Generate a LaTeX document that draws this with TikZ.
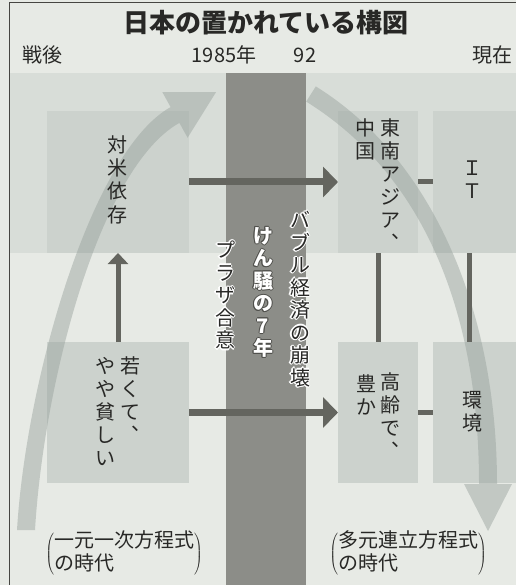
\documentclass[tikz,border=0pt]{standalone}
\usepackage{fontspec}
\setmainfont{Noto Sans CJK JP}
\usepackage{graphicx}
\usetikzlibrary{arrows.meta}
\definecolor{paperc}{RGB}{231,234,229}
\definecolor{bandc}{RGB}{216,221,216}
\definecolor{boxc}{RGB}{204,210,205}
\definecolor{darkc}{RGB}{140,141,136}
\definecolor{connc}{RGB}{100,101,95}
\definecolor{curvec}{RGB}{150,160,155}
\definecolor{txtc}{RGB}{40,40,38}
\definecolor{framec}{RGB}{70,70,66}
\newcommand{\vcomma}{\makebox[1em][l]{\hspace{0.55em}\raisebox{0.6em}{、}}}
\tikzset{
  boxnode/.style={fill=boxc, draw=none, inner sep=0pt, outer sep=0pt},
  vt/.style={font=\fontsize{20}{23}\selectfont, align=center, inner sep=0pt, anchor=north, text=txtc},
  bandtxt/.style={font=\fontsize{20}{22.5}\selectfont, align=center, inner sep=0pt, anchor=north},
  hdr/.style={font=\fontsize{20}{22}\selectfont, inner sep=0pt, anchor=base, text=txtc},
  hconn/.style={draw=connc, line width=7pt, -{Triangle[length=15pt,width=30pt]}},
  vconn/.style={draw=connc, line width=5pt, -{Triangle[length=11pt,width=20pt]}},
  plainconn/.style={draw=connc, line width=5pt},
  bigcurve/.style={fill=curvec, opacity=0.45},
}
\begin{document}
\begin{tikzpicture}[x=1pt,y=-1pt]
\useasboundingbox (0,0) rectangle (516,585);
\fill[paperc] (0,0) rectangle (516,585);
\fill[bandc] (10,73) rectangle (516,253);

% boxes
\node[boxnode, minimum width=142pt, minimum height=142pt] (usa) at (118,182) {};
\node[boxnode, minimum width=142pt, minimum height=141pt] (young) at (118,412.5) {};
\node[boxnode, minimum width=80pt, minimum height=142pt] (asia) at (378,182) {};
\node[boxnode, minimum width=83pt, minimum height=142pt] (it) at (474.5,182) {};
\node[boxnode, minimum width=80pt, minimum height=141pt] (aged) at (378,412.5) {};
\node[boxnode, minimum width=83pt, minimum height=141pt] (env) at (474.5,412.5) {};

% big curved arrows
\fill[bigcurve] (17,530) .. controls (26,380) and (91.6,151.1) .. (170.6,107.1)
  -- (162.4,92.25) -- (216,92.2) -- (187.6,137.75) -- (179.4,122.9)
  .. controls (100.4,166.9) and (44,380) .. (35,530) -- cycle;
\fill[bigcurve] (315.8,86.4) .. controls (434.8,160.4) and (497,314) .. (497,484)
  -- (512,484) -- (488,531) -- (464,484) -- (479,484)
  .. controls (479,314) and (425.2,175.6) .. (306.2,101.6) -- cycle;

% dark band
\fill[darkc] (226,73) rectangle (306,585);

% connectors
\draw[hconn] (usa.east) -- (asia.west);
\draw[hconn] (young.east) -- (aged.west);
\draw[vconn] (young.north) -- (usa.south);
\draw[plainconn] (asia.south) -- (aged.north);
\draw[plainconn] ([xshift=-5.5pt]it.south) -- ([xshift=-5.5pt]env.north);
\draw[plainconn] (asia.east) -- (it.west);
\draw[plainconn] (aged.east) -- (env.west);

% title and header
\node[font=\fontsize{26}{28}\selectfont\bfseries, inner sep=0pt, text=txtc] (title) at (266,23) {日本の置かれている構図};
\node[hdr] (sengo) at (42,62.5) {戦後};
\node[hdr] (y1985) at (224,62.5) {1985年};
\node[hdr] (y92) at (305,62.5) {92};
\node[hdr] (genzai) at (492,62.5) {現在};

% box texts
\node[vt] (tusa) at (117,136) {対\\米\\依\\存};
\node[vt] (tasia) at (390,119) {東\\南\\ア\\ジ\\ア\\\vcomma};
\node[vt] (tchina) at (365,119) {中\\国};
\node[vt] (tit) at (472,161) {Ｉ\\Ｔ};
\node[vt] (tyoungA) at (130,356) {若\\く\\て\\\vcomma};
\node[vt] (tyoungB) at (105,357) {や\\や\\貧\\し\\い};
\node[vt] (tagedA) at (390,372) {高\\齢\\で\\\vcomma};
\node[vt] (tagedB) at (366,374) {豊\\か};
\node[vt] (tenv) at (472,391) {環\\境};

% band texts with halo
\foreach \a in {0,45,...,315} {
  \node[bandtxt, text=white] (hb\a) at ([shift={(\a:1.4)}]300,211) {バ\\ブ\\ル\\経\\済\\の\\崩\\壊};
  \node[bandtxt, text=white] (hp\a) at ([shift={(\a:1.4)}]225,241) {プ\\ラ\\ザ\\合\\意};
  \node[bandtxt, text={rgb,255:red,80;green,80;blue,76}, font=\fontsize{20}{22.5}\selectfont\bfseries] (hk\a) at ([shift={(\a:1)}]263,227) {け\\ん\\騒\\の\\7\\年};
}
\node[bandtxt, text=txtc] (bubble) at (300,211) {バ\\ブ\\ル\\経\\済\\の\\崩\\壊};
\node[bandtxt, text=txtc] (plaza) at (225,241) {プ\\ラ\\ザ\\合\\意};
\node[bandtxt, text=white, font=\fontsize{20}{22.5}\selectfont\bfseries] (kenso) at (263,227) {け\\ん\\騒\\の\\7\\年};

% bottom labels
\node[font=\fontsize{20}{21}\selectfont, inner sep=0pt, text=txtc] (eqA) at (124,554)
  {$\left(\vcenter{\hbox{\begin{tabular}{@{}l@{}}一元一次方程式\\の時代\end{tabular}}}\right)$};
\node[font=\fontsize{20}{21}\selectfont, inner sep=0pt, text=txtc] (eqB) at (408,554)
  {$\left(\vcenter{\hbox{\begin{tabular}{@{}l@{}}多元連立方程式\\の時代\end{tabular}}}\right)$};

% frame
\draw[framec, line width=1pt] (9,585) -- (9,3) -- (516,3);
\end{tikzpicture}
\end{document}
